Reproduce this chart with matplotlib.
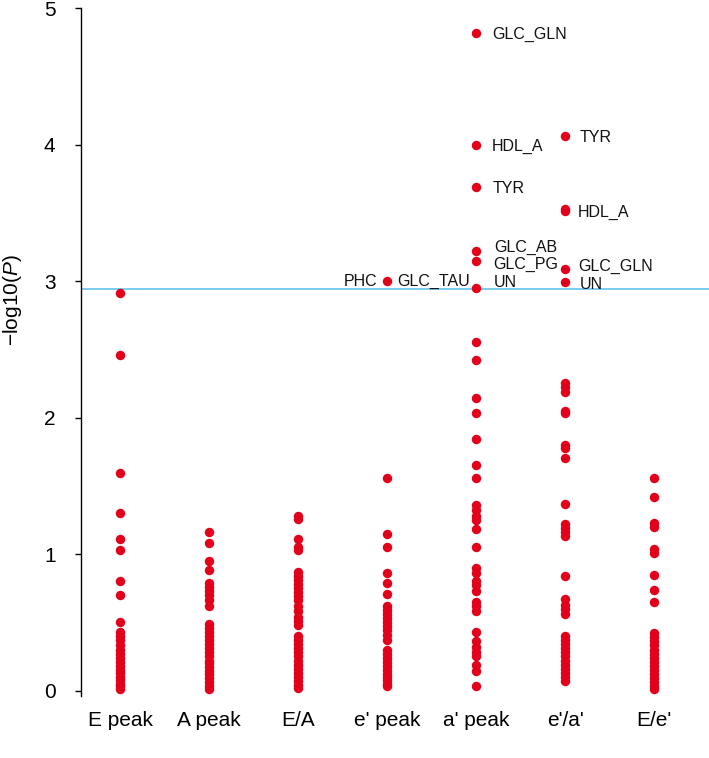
import matplotlib
matplotlib.use("Agg")
import matplotlib.pyplot as plt

plt.rcParams['font.family'] = ['Liberation Sans', 'DejaVu Sans']
plt.rcParams['mathtext.fontset'] = 'custom'
plt.rcParams['mathtext.rm'] = 'Liberation Sans'
plt.rcParams['mathtext.it'] = 'Liberation Sans:italic'

categories = ["E peak", "A peak", "E/A", "e' peak", "a' peak", "e'/a'", "E/e'"]

e_peak = [2.91, 2.46, 1.59, 1.30, 1.11, 1.03, 0.80, 0.70, 0.50, 0.43, 0.40, 0.37,
          0.33, 0.30, 0.27, 0.24, 0.21, 0.18, 0.15, 0.13, 0.10, 0.08, 0.05, 0.03, 0.01]
a_peak = [1.16, 1.08, 0.95, 0.88, 0.79, 0.76, 0.73, 0.70, 0.66, 0.62, 0.49, 0.46,
          0.43, 0.40, 0.37, 0.34, 0.31, 0.28, 0.25, 0.22, 0.20, 0.17, 0.14, 0.12,
          0.09, 0.06, 0.03, 0.01]
e_a = [1.28, 1.26, 1.11, 1.05, 1.03, 0.87, 0.84, 0.81, 0.78, 0.75, 0.72, 0.69, 0.66,
       0.62, 0.58, 0.54, 0.51, 0.48, 0.40, 0.37, 0.34, 0.31, 0.28, 0.25, 0.22, 0.19,
       0.16, 0.13, 0.10, 0.07, 0.04, 0.02]
ep_peak = [3.00, 1.56, 1.15, 1.05, 0.86, 0.79, 0.71, 0.62, 0.59, 0.56, 0.53, 0.50,
           0.47, 0.44, 0.41, 0.37, 0.30, 0.27, 0.24, 0.21, 0.18, 0.15, 0.12, 0.10,
           0.08, 0.05, 0.03]
ap_peak = [4.82, 4.00, 3.69, 3.22, 3.15, 2.95, 2.55, 2.42, 2.14, 2.03, 1.84, 1.65,
           1.56, 1.36, 1.32, 1.28, 1.25, 1.18, 1.05, 0.90, 0.86, 0.80, 0.77, 0.73,
           0.65, 0.62, 0.58, 0.43, 0.36, 0.32, 0.28, 0.25, 0.19, 0.14, 0.03]
ep_ap = [4.06, 3.53, 3.51, 3.09, 2.99, 2.25, 2.22, 2.19, 2.05, 2.03, 1.80, 1.78, 1.70,
         1.37, 1.22, 1.19, 1.16, 1.13, 0.84, 0.67, 0.63, 0.60, 0.56, 0.40, 0.37, 0.34,
         0.31, 0.28, 0.25, 0.22, 0.19, 0.16, 0.13, 0.10, 0.07]
e_ep = [1.56, 1.42, 1.23, 1.20, 1.04, 1.01, 0.85, 0.74, 0.65, 0.42, 0.39, 0.36, 0.33,
        0.30, 0.27, 0.24, 0.21, 0.18, 0.15, 0.12, 0.09, 0.06, 0.03, 0.01]

series = [e_peak, a_peak, e_a, ep_peak, ap_peak, ep_ap, e_ep]

threshold = 2.94

# labelled points: (column index, value, text)
label_col = [4, 4, 4, 4, 4, 4, 3, 3, 5, 5, 5, 5]
label_val = [4.82, 4.00, 3.69, 3.22, 3.15, 2.95, 3.00, 3.00, 4.06, 3.52, 3.09, 2.99]
label_txt = ["GLC_GLN", "HDL_A", "TYR", "GLC_AB", "GLC_PG", "UN", "PHC", "GLC_TAU",
             "TYR", "HDL_A", "GLC_GLN", "UN"]
# placement (pixel offsets of text from its point)
label_dx = [16, 16, 17, 18, 17, 18, -10, 10, 15, 13, 13, 15]
label_dy = [0, -1, 0, 5, -3, 7, 1, 1, 0, -1, 4, -1]
label_ha = ['left'] * 6 + ['right', 'left'] + ['left'] * 4

W, H = 709, 758
top_px, bot_px = 8, 696
fig = plt.figure(figsize=(W / 100, H / 100), dpi=100)
ax = fig.add_axes([81 / W, 1 - bot_px / H, 1 - 81 / W, (bot_px - top_px) / H])

red = '#E3001B'
for i, vals in enumerate(series):
    ax.plot([i + 1] * len(vals), vals, 'o', color=red, markersize=6.8,
            markeredgewidth=0, clip_on=False, zorder=3)

ax.axhline(threshold, color='#56BEEA', linewidth=1.1, zorder=2)

for c, v, t, dx, dy, ha in zip(label_col, label_val, label_txt, label_dx, label_dy, label_ha):
    ax.annotate(t, xy=(c + 1, v), xytext=(dx, dy - 5.8), textcoords='offset pixels',
                ha=ha, va='baseline', fontsize=11.5, color='#111111')

ax.set_xlim(1 - 39 / 89, 7 + 55 / 89)
ax.set_ylim(-0.04, 5.0)
ax.set_yticks([0, 1, 2, 3, 4, 5])
ax.set_xticks(range(1, 8))
ax.set_xticklabels(categories)
for s in ['top', 'right', 'bottom']:
    ax.spines[s].set_visible(False)
ax.spines['left'].set_bounds(-0.04, 5.0)
ax.spines['left'].set_linewidth(1.0)
ax.tick_params(axis='y', length=4.3, width=1.0, pad=14, labelsize=15)
ax.tick_params(axis='x', length=0, pad=11, labelsize=15)
ax.set_ylabel(r'$-$log10($\mathit{P}$)', fontsize=15)
ax.yaxis.set_label_coords(-57 / (W - 81), 0.575)

fig.savefig('out.png', dpi=100)
